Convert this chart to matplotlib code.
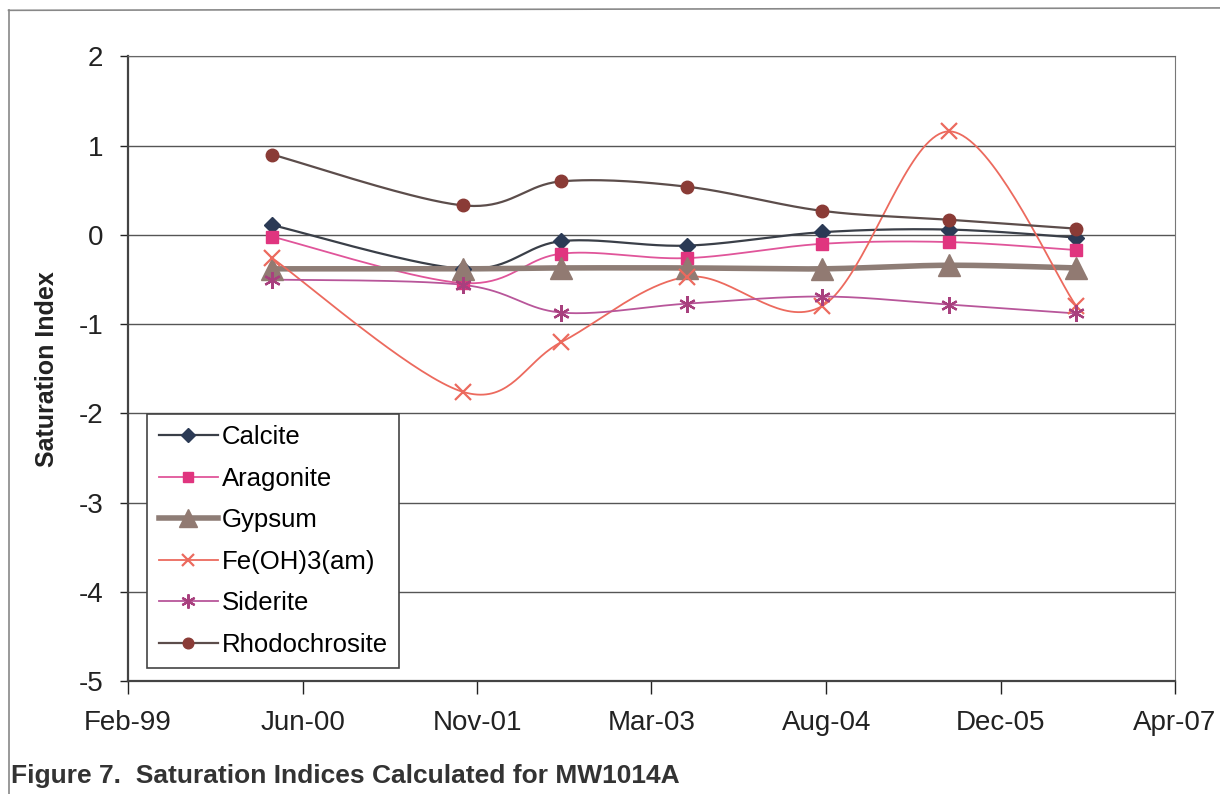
import matplotlib
matplotlib.use("Agg")
import matplotlib.pyplot as plt
import matplotlib.dates as mdates
from matplotlib.lines import Line2D
import numpy as np
import datetime as dt

# sampling dates for MW1014A
dates = ["2000-03-28", "2001-09-27", "2002-07-05", "2003-06-30",
         "2004-07-20", "2005-07-20", "2006-07-20"]

calcite = [0.11, -0.38, -0.07, -0.12, 0.03, 0.06, -0.03]
aragonite = [-0.02, -0.54, -0.21, -0.26, -0.10, -0.08, -0.17]
gypsum = [-0.38, -0.38, -0.37, -0.37, -0.38, -0.34, -0.37]
feoh3 = [-0.26, -1.76, -1.20, -0.47, -0.80, 1.16, -0.80]
siderite = [-0.50, -0.56, -0.87, -0.77, -0.69, -0.78, -0.88]
rhodochrosite = [0.90, 0.33, 0.60, 0.54, 0.27, 0.17, 0.07]

x_ticks = ["1999-02-09", "2000-06-23", "2001-11-05", "2003-03-20",
           "2004-08-02", "2005-12-15", "2007-04-28"]


def smooth(xv, yv, n=40):
    # Excel-style smoothed line: bezier segments with catmull-rom handles
    p = np.column_stack([xv, yv]).astype(float)
    pts = [p[0]] + list(p) + [p[-1]]
    out = []
    t = np.linspace(0, 1, n)[:, None]
    for i in range(1, len(pts) - 2):
        p0, p1, p2, p3 = pts[i - 1], pts[i], pts[i + 1], pts[i + 2]
        c1 = p1 + (p2 - p0) / 6.0
        c2 = p2 - (p3 - p1) / 6.0
        seg = ((1 - t) ** 3) * p1 + 3 * ((1 - t) ** 2) * t * c1 + 3 * (1 - t) * t ** 2 * c2 + t ** 3 * p2
        out.append(seg)
    s = np.vstack(out)
    return s[:, 0], s[:, 1]


plt.rcParams['font.family'] = ['Liberation Sans', 'DejaVu Sans']

fig = plt.figure(figsize=(12.2, 7.94), dpi=100)
ax = fig.add_axes([0.105, 0.142, 0.858, 0.787])

xd = mdates.date2num([dt.datetime.strptime(d, "%Y-%m-%d") for d in dates])

series = [
    ("Calcite", calcite, "#3a3f48", "#2b3a55", "D", 8, 1.6, {}),
    ("Aragonite", aragonite, "#e0559a", "#e0357f", "s", 8, 1.3, {}),
    ("Gypsum", gypsum, "#8e7d76", "#917a72", "^", 16, 4.0, {}),
    ("Fe(OH)3(am)", feoh3, "#ec6a5e", "#ec6a5e", "x", 11, 1.3, {"mew": 1.6}),
    ("Siderite", siderite, "#b8569a", "#a8407e", (6, 2, 0), 12, 1.3, {"mew": 1.6}),
    ("Rhodochrosite", rhodochrosite, "#5c4d4b", "#8a3b36", "o", 9, 1.6, {}),
]

handles = []
for name, vals, lc, mc, mk, ms, lw, extra in series:
    sx, sy = smooth(xd, vals)
    ax.plot(sx, sy, color=lc, lw=lw, zorder=3)
    ax.plot(xd, vals, ls="none", marker=mk, ms=ms, color=mc, mec=mc, zorder=4, **extra)
    handles.append(Line2D([], [], color=lc, lw=lw, marker=mk, ms=ms * 0.85, mfc=mc, mec=mc, **extra))

ax.set_ylim(-5, 2)
ax.set_yticks(range(-5, 3))
ax.set_yticklabels([str(v) for v in range(-5, 3)])
tick_num = mdates.date2num([dt.datetime.strptime(d, "%Y-%m-%d") for d in x_ticks])
ax.set_xlim(tick_num[0], tick_num[-1])
ax.set_xticks(tick_num)
ax.xaxis.set_major_formatter(mdates.DateFormatter("%b-%y"))

ax.grid(axis="y", color="#555555", lw=1.0)
ax.set_axisbelow(True)
for side in ["left", "bottom"]:
    ax.spines[side].set_color("#444444")
    ax.spines[side].set_linewidth(1.6)
ax.spines["right"].set_color("#777777")
ax.spines["top"].set_color("#666666")

ax.tick_params(axis="y", direction="out", length=6, width=1, labelsize=20, pad=12, colors="#222222")
ax.tick_params(axis="x", direction="out", length=9, width=1, labelsize=20, pad=12, colors="#222222")
ax.set_ylabel("Saturation Index", fontsize=18, fontweight="bold", labelpad=14, color="#222222")

leg = ax.legend(handles, [s[0] for s in series], loc="lower left",
                bbox_to_anchor=(0.018, 0.021), borderaxespad=0, fontsize=18.5,
                frameon=True, fancybox=False, edgecolor="#444444", framealpha=1,
                handlelength=2.3, handletextpad=0.15, labelspacing=0.68,
                borderpad=0.45)
leg.get_frame().set_linewidth(1.2)

# chart area frame
fig.add_artist(Line2D([0.007, 0.007], [0.0, 0.987], color="#888888", lw=1.2))
fig.add_artist(Line2D([0.007, 1.0], [0.987, 0.99], color="#888888", lw=1.2))

fig.text(0.009, 0.014, "Figure 7.  Saturation Indices Calculated for MW1014A",
         fontsize=19, fontweight="bold", color="#333333")

fig.savefig("out.png", dpi=100)
